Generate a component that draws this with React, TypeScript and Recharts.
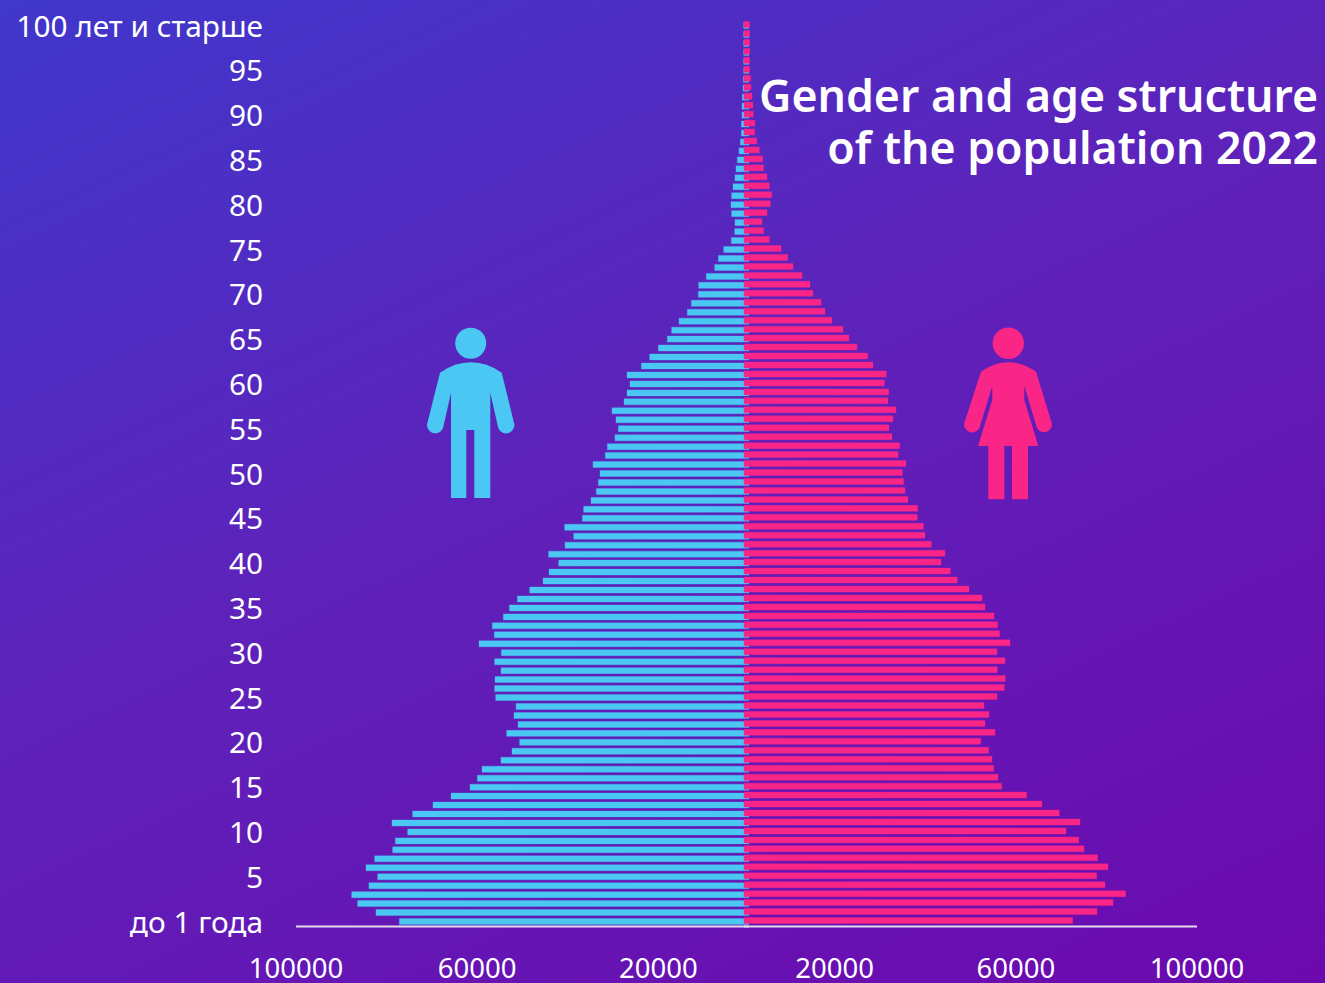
import React from 'react';
import { BarChart, Bar, XAxis, YAxis } from 'recharts';

// population by single year of age, index = age (0 .. 100+)
const maleValues = [
  77190, 82340, 86390, 87710, 83890, 81970, 84550, 82630, 78660, 78070,
  75350, 78810, 74250, 69760, 65780, 61590, 59970, 58940, 54750, 52320,
  50630, 53500, 50990, 51880, 51430, 55920, 56150, 56070, 54750, 56150,
  54670, 59600, 56220, 56660, 54230, 52900, 51140, 48420, 45470, 44150,
  42020, 44230, 40620, 38700, 40690, 36790, 36500, 34880, 33700, 33260,
  32890, 34440, 31720, 31270, 29580, 28840, 29360, 30240, 27590, 26930,
  26270, 26930, 23770, 21930, 20010, 18030, 17070, 15450, 13620, 12730,
  11190, 11110, 9420, 7580, 6770, 5590, 3900, 3160, 3090, 3830,
  3970, 3830, 3530, 3090, 2870, 2580, 2210, 1910, 1690, 1690,
  1545, 1545, 1470, 1320, 1250, 1170, 1170, 1170, 1170, 1170,
  1170,
];
const femaleValues = [
  72550, 77930, 81460, 84250, 79690, 77850, 80350, 78070, 75060, 73880,
  71080, 74170, 69610, 65780, 62400, 56880, 56070, 55120, 54750, 54010,
  52250, 55410, 53200, 54080, 52980, 55850, 57470, 57690, 55920, 57620,
  55850, 58720, 56440, 56000, 55190, 53200, 52540, 49670, 47090, 45550,
  43490, 44370, 41350, 39960, 39590, 38260, 38340, 36200, 35540, 35250,
  34950, 35760, 34000, 34370, 32670, 32010, 32890, 33550, 31790, 31940,
  30970, 31410, 28480, 27310, 24940, 23180, 21850, 19430, 17880, 17000,
  15230, 14570, 12800, 10820, 9640, 8170, 5590, 4340, 3970, 5080,
  5810, 6110, 5590, 5080, 4340, 4120, 3390, 2800, 2360, 2430,
  2060, 1990, 1770, 1545, 1470, 1250, 1250, 1250, 1250, 1250,
  1250,
];
const ageTicks = [0, 5, 10, 15, 20, 25, 30, 35, 40, 45, 50, 55, 60, 65, 70, 75, 80, 85, 90, 95, 100];
const valueTicks = [20000, 60000, 100000];

const maleData = maleValues.map((value, age) => ({ age, value }));
const femaleData = femaleValues.map((value, age) => ({ age, value }));

const FONT = '"Noto Sans", sans-serif';
const BLUE = '#4AC7F2';
const PINK = '#F92688';

const ageLabel = (age: number) => {
  if (age === 0) return 'до 1 года';
  if (age === 100) return '100 лет и старше';
  return String(age);
};

const ageTickStyle = { fill: '#fff', fontSize: 29.8, fontFamily: FONT };
const valueTickStyle = { fill: '#fff', fontSize: 27.5, fontFamily: FONT };
const axisLine = { stroke: '#E4DDEE', strokeWidth: 2 };

function Figures() {
  return (
    <svg width={1325} height={983} style={{ position: 'absolute', left: 0, top: 0 }}>
      <circle cx={470.7} cy={343.3} r={15.5} fill={BLUE} />
      <path
        fill={BLUE}
        d="M440 372.7 Q455 362.3 470.7 362.3 Q487 362.3 501.7 372.7 L513.7 421.7 A7.7 7.7 0 0 1 498.3 428.3 L490.3 392.7 L490.3 498 L474.3 498 L474.3 430 L466.3 430 L466.3 498 L451 498 L451 392.7 L443 428.3 A7.7 7.7 0 0 1 427.7 421.7 Z"
      />
      <circle cx={1008.3} cy={343.3} r={15.7} fill={PINK} />
      <path
        fill={PINK}
        d="M981 371.7 Q995 362.3 1008.3 362.3 Q1022 362.3 1036 371.7 L1051.3 421.7 A7.7 7.7 0 0 1 1036.7 427.3 L1024.3 386 L1024.3 400 L1038.3 446 L1028 446 L1028 499.3 L1012 499.3 L1012 446 L1004.3 446 L1004.3 499.3 L988.3 499.3 L988.3 446 L978 446 L992.3 400 L992.3 386 L979.7 427.3 A7.7 7.7 0 0 1 964.7 421.7 Z"
      />
    </svg>
  );
}

export default function App() {
  return (
    <div
      style={{
        position: 'absolute',
        left: 0,
        top: 0,
        width: 1325,
        height: 983,
        overflow: 'hidden',
        background: 'linear-gradient(155deg, #4037CB 0%, #5E22BA 45%, #6C09AE 100%)',
      }}
    >
      <div style={{ position: 'absolute', left: 0, top: 0 }}>
        <BarChart
          width={749}
          height={983}
          layout="vertical"
          data={maleData}
          margin={{ top: 21.5, right: 0, bottom: 0, left: 0 }}
        >
          <XAxis
            type="number"
            reversed
            domain={[0, 100000]}
            ticks={valueTicks}
            height={56.5}
            tickLine={false}
            tickSize={0}
            tickMargin={32}
            axisLine={axisLine}
            tick={valueTickStyle}
            interval={0}
          />
          <YAxis
            type="category"
            dataKey="age"
            reversed
            width={296}
            ticks={ageTicks}
            interval={0}
            tickFormatter={ageLabel}
            axisLine={false}
            tickLine={false}
            tickSize={0}
            tickMargin={33}
            tick={ageTickStyle}
          />
          <Bar dataKey="value" fill={BLUE} stroke={BLUE} strokeOpacity={0.35} barSize={6} isAnimationActive={false} />
        </BarChart>
      </div>
      <div style={{ position: 'absolute', left: 0, top: 0 }}>
        <BarChart
          width={1325}
          height={983}
          layout="vertical"
          data={femaleData}
          margin={{ top: 20.5, right: 128, bottom: 0, left: 744 }}
        >
          <XAxis
            type="number"
            domain={[0, 100000]}
            ticks={valueTicks}
            height={56.5}
            tickLine={false}
            tickSize={0}
            tickMargin={32}
            axisLine={axisLine}
            tick={valueTickStyle}
            interval={0}
          />
          <YAxis type="category" dataKey="age" reversed hide padding={{ top: 0, bottom: 1 }} />
          <Bar dataKey="value" fill={PINK} stroke={PINK} strokeOpacity={0.35} barSize={6} isAnimationActive={false} />
        </BarChart>
      </div>
      <Figures />
      <div
        style={{
          position: 'absolute',
          right: 7,
          top: 69,
          textAlign: 'right',
          color: '#fff',
          fontFamily: FONT,
          fontWeight: 600,
          fontSize: 44.6,
          lineHeight: '52px',
          whiteSpace: 'nowrap',
        }}
      >
        Gender and age structure
        <br />
        of the population 2022
      </div>
    </div>
  );
}
